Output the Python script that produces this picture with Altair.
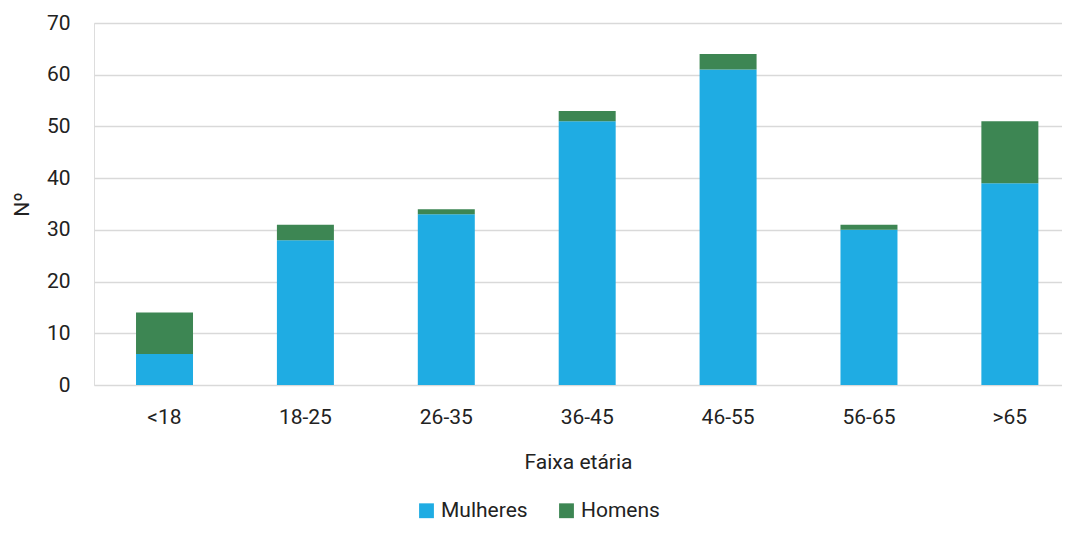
import altair as alt
import pandas as pd

categories = ["<18", "18-25", "26-35", "36-45", "46-55", "56-65", ">65"]
mulheres = [6, 28, 33, 51, 61, 30, 39]
homens = [8, 3, 1, 2, 3, 1, 12]
series = ["Mulheres", "Homens"]
colors = ["#1FACE3", "#3D8653"]

rows = []
for c, m, h in zip(categories, mulheres, homens):
    rows.append({"cat": c, "serie": "Mulheres", "v": m, "ord": 0})
    rows.append({"cat": c, "serie": "Homens", "v": h, "ord": 1})
df = pd.DataFrame(rows)

FONT = "Roboto"
FS = 21

chart = alt.Chart(df).mark_bar().encode(
    x=alt.X("cat:N", sort=categories, title="Faixa etária",
            scale=alt.Scale(paddingInner=0.5955, paddingOuter=0.233, align=0.64),
            axis=alt.Axis(labelAngle=0, labelFontSize=FS, titleFontSize=FS,
                          labelPadding=21, titlePadding=24, ticks=False, domain=False,
                          labelColor="#222", titleColor="#222", labelFont=FONT,
                          titleFont=FONT, titleFontWeight="normal")),
    y=alt.Y("v:Q", stack="zero", title="Nº",
            scale=alt.Scale(domain=[0, 70]),
            axis=alt.Axis(values=[0, 10, 20, 30, 40, 50, 60, 70], labelFontSize=FS,
                          titleFontSize=FS, labelPadding=24, titlePadding=14,
                          ticks=False, domain=False, gridColor="#d9d9d9", gridWidth=1.5,
                          labelColor="#222", titleColor="#222", labelFont=FONT,
                          titleFont=FONT, titleFontWeight="normal")),
    color=alt.Color("serie:N", sort=series,
                    scale=alt.Scale(domain=series, range=colors),
                    legend=alt.Legend(title=None, orient="none", direction="horizontal",
                                      legendX=322, legendY=477, symbolType="square",
                                      symbolSize=220, symbolStrokeWidth=0,
                                      labelFontSize=FS, labelFont=FONT, labelColor="#222",
                                      columnPadding=28, labelOffset=4)),
    order=alt.Order("ord:Q"),
).properties(
    width=968, height=362,
    padding={"left": 86, "top": 15, "right": 0, "bottom": 141},
    autosize=alt.AutoSizeParams(type="none"),
).configure_view(stroke=None).configure(background="white")

chart.save("out.html", embed_options={"renderer": "svg", "actions": False})
